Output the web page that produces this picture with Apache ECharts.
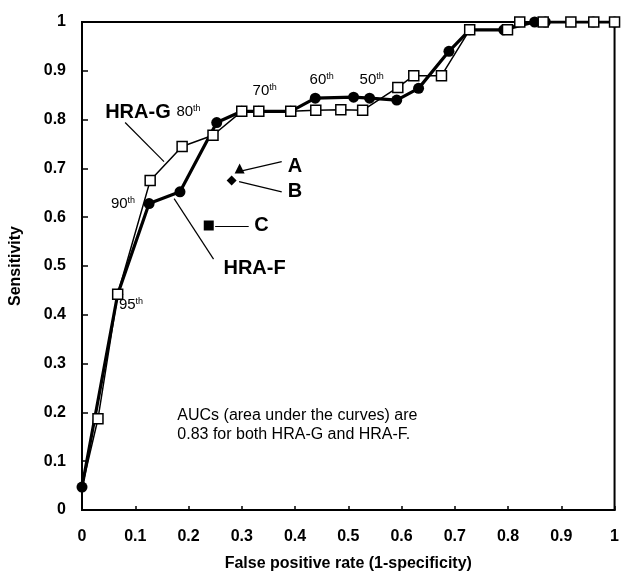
<!DOCTYPE html>
<html>
<head>
<meta charset="utf-8">
<script src="https://cdn.jsdelivr.net/npm/echarts@6/dist/echarts.min.js"></script>
<style>
  html, body { margin: 0; padding: 0; background: #fff; }
  #roc { width: 622px; height: 579px; }
</style>
</head>
<body>
<div id="roc"></div>
<script>
// ROC points: [false positive rate, sensitivity]
var hraG = [[0, 0.047], [0.03, 0.187], [0.067, 0.442], [0.128, 0.675], [0.188, 0.745],
  [0.246, 0.768], [0.300, 0.817], [0.332, 0.817], [0.392, 0.817], [0.439, 0.819],
  [0.486, 0.820], [0.527, 0.819], [0.593, 0.866], [0.623, 0.890], [0.675, 0.890],
  [0.728, 0.984], [0.799, 0.984], [0.822, 1], [0.866, 1], [0.918, 1], [0.961, 1], [1, 1]];
var hraF = [[0, 0.047], [0.067, 0.442], [0.126, 0.628], [0.184, 0.652], [0.253, 0.794],
  [0.300, 0.817], [0.332, 0.817], [0.392, 0.817], [0.438, 0.844], [0.510, 0.846],
  [0.540, 0.844], [0.591, 0.840], [0.632, 0.864], [0.689, 0.940], [0.728, 0.984],
  [0.792, 0.984], [0.850, 1], [0.870, 1], [0.960, 1], [1, 1]];
// single criteria A, B, C
var pointNames = ['A', 'B', 'C'];
var pointValues = [[0.296, 0.700], [0.281, 0.675], [0.238, 0.583]];
var pointSymbols = ['triangle', 'diamond', 'rect'];
// percentile cut-offs
var pctTexts = ['95', '90', '80', '70', '60', '50'];
var pctAnchors = [[0.092, 0.420], [0.077, 0.628], [0.200, 0.815], [0.343, 0.858], [0.450, 0.881], [0.544, 0.881]];

var FONT = '"Liberation Sans", Arial, sans-serif';

var chart = echarts.init(document.getElementById('roc'));

var gData = hraG.map(function (p, i) {
  return i === 0 ? { value: p, symbol: 'none' } : p;
});

var calloutData = [
  { value: [0.105, 0.815], name: 'HRA-G' },
  { value: [0.324, 0.494], name: 'HRA-F' },
  { value: [0.400, 0.704], name: 'A' },
  { value: [0.400, 0.652], name: 'B' },
  { value: [0.337, 0.584], name: 'C' }
];

var pctData = pctTexts.map(function (t, i) {
  return { value: pctAnchors[i], name: t };
});

var leaders = [
  [[0.081, 0.794], [0.154, 0.714]],
  [[0.173, 0.638], [0.247, 0.514]],
  [[0.300, 0.695], [0.375, 0.714]],
  [[0.295, 0.673], [0.375, 0.652]],
  [[0.250, 0.582], [0.313, 0.582]]
].map(function (s) {
  return [{ coord: s[0] }, { coord: s[1] }];
});

var solid = { color: '#000', opacity: 1 };

option = {
  animation: false,
  grid: {
    left: 81, right: 6, top: 22, bottom: 69,
    show: true, borderColor: '#000', borderWidth: 2
  },
  xAxis: {
    type: 'value', min: 0, max: 1, interval: 0.1,
    name: 'False positive rate (1-specificity)',
    nameLocation: 'middle', nameGap: 46,
    nameTextStyle: { fontFamily: FONT, fontSize: 16, fontWeight: 'bold', color: '#000' },
    axisLine: { lineStyle: { color: '#000', width: 2 } },
    axisTick: { inside: true, length: 4, lineStyle: { color: '#000', width: 1.5 } },
    axisLabel: { margin: 19, fontFamily: FONT, fontSize: 16, fontWeight: 'bold', color: '#000' },
    splitLine: { show: false }
  },
  yAxis: {
    type: 'value', min: 0, max: 1, interval: 0.1,
    name: 'Sensitivity',
    nameLocation: 'middle', nameGap: 58,
    nameTextStyle: { fontFamily: FONT, fontSize: 16, fontWeight: 'bold', color: '#000' },
    axisLine: { show: true, lineStyle: { color: '#000', width: 2 } },
    axisTick: { show: true, inside: true, length: 6, lineStyle: { color: '#000', width: 1.5 } },
    axisLabel: { margin: 16, fontFamily: FONT, fontSize: 16, fontWeight: 'bold', color: '#000' },
    splitLine: { show: false }
  },
  series: [
    {
      name: 'HRA-F', type: 'line', z: 2,
      data: hraF,
      symbol: 'circle', symbolSize: 11,
      itemStyle: solid,
      lineStyle: { color: '#000', width: 3.2 }
    },
    {
      name: 'HRA-G', type: 'line', z: 3,
      data: gData,
      symbol: 'rect', symbolSize: 10,
      itemStyle: { color: '#fff', borderColor: '#000', borderWidth: 1.5, opacity: 1 },
      lineStyle: { color: '#000', width: 1.5 }
    },
    {
      name: 'criteria', type: 'scatter', z: 4,
      data: pointValues.map(function (v, i) {
        return { value: v, name: pointNames[i], symbol: pointSymbols[i] };
      }),
      symbolSize: 10,
      itemStyle: solid
    },
    {
      name: 'callouts', type: 'scatter', z: 5, silent: true,
      data: calloutData, symbolSize: 0, itemStyle: solid,
      label: {
        show: true, position: 'inside', formatter: '{b}',
        fontFamily: FONT, fontSize: 20, fontWeight: 'bold', color: '#000', opacity: 1
      },
      markLine: {
        silent: true, symbol: ['none', 'none'],
        label: { show: false },
        lineStyle: { color: '#000', width: 1.2, type: 'solid', opacity: 1 },
        data: leaders
      }
    },
    {
      name: 'percentiles', type: 'scatter', z: 5, silent: true,
      data: pctData, symbolSize: 0, itemStyle: solid,
      label: {
        show: true, position: 'inside', color: '#000', opacity: 1,
        formatter: function (p) { return '{n|' + p.name + '}{s|th}'; },
        rich: {
          n: { fontFamily: FONT, fontSize: 15, color: '#000', lineHeight: 16 },
          s: { fontFamily: FONT, fontSize: 9, color: '#000', verticalAlign: 'top', lineHeight: 16 }
        }
      }
    },
    {
      name: 'note', type: 'scatter', z: 5, silent: true,
      data: [{ value: [0.179, 0.174], name: 'AUCs (area under the curves) are\n0.83 for both HRA-G and HRA-F.' }],
      symbolSize: 0, itemStyle: solid,
      label: {
        show: true, position: 'inside', formatter: '{b}', align: 'left',
        fontFamily: FONT, fontSize: 16, lineHeight: 19, color: '#000', opacity: 1
      }
    }
  ]
};

chart.setOption(option);
</script>
</body>
</html>
